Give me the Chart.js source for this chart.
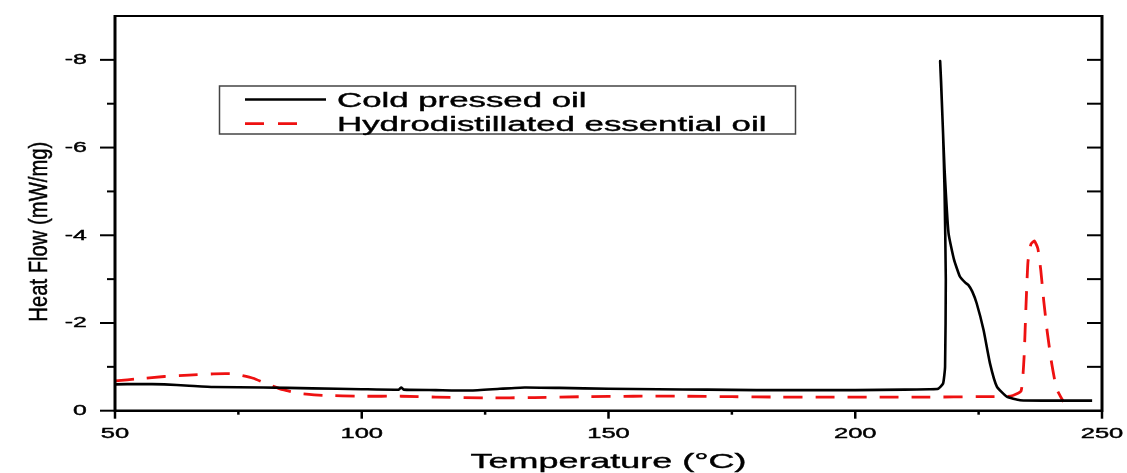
<!DOCTYPE html>
<html lang="en">
  <head>
    <meta charset="UTF-8" />
    <title>Heat Flow vs Temperature</title>
    <script src="https://cdn.jsdelivr.net/npm/chart.js"></script>
    <style>
      html, body { margin: 0; padding: 0; background: #fff; }
      #grafico { display: block; }
    </style>
  </head>
  <body>
    <canvas id="grafico" width="1127" height="473"></canvas>
  </body>
</html>

<script>
  // series (temperature in °C, heat flow in mW/mg)
  const coldTemp = [50, 55, 60, 65, 70, 80, 90, 100, 107.5, 108, 108.5, 115, 122, 128, 133, 140, 150, 160, 170, 180, 190, 200, 210, 215, 216.8, 217.8, 218.2, 218.35, 218.1, 217.8, 217.45, 217.2, 217.4, 217.7, 218.1, 218.9, 220, 221.2, 222.3, 222.9, 223.7, 224.6, 226, 227.3, 228.7, 230.7, 233.4, 240, 248];
  const coldFlow = [-0.6, -0.61, -0.6, -0.57, -0.54, -0.53, -0.51, -0.49, -0.48, -0.53, -0.48, -0.47, -0.46, -0.5, -0.53, -0.52, -0.5, -0.49, -0.48, -0.47, -0.47, -0.47, -0.48, -0.49, -0.5, -0.62, -1.0, -3.0, -5.0, -6.3, -7.3, -7.97, -7.5, -6.6, -5.5, -4.05, -3.45, -3.06, -2.92, -2.87, -2.72, -2.45, -1.84, -1.08, -0.55, -0.32, -0.24, -0.23, -0.23];

  const hydroTemp = [50, 55, 60, 65, 70, 74, 78, 81, 84, 87.5, 92, 100, 108, 115, 125, 135, 145, 155, 165, 175, 185, 195, 205, 215, 225, 231.5, 233.6, 234.2, 234.6, 235.0, 235.6, 236.3, 237.0, 237.6, 238.2, 238.9, 239.8, 240.8, 242.2];
  const hydroFlow = [-0.68, -0.73, -0.78, -0.81, -0.84, -0.84, -0.74, -0.6, -0.48, -0.39, -0.35, -0.33, -0.33, -0.31, -0.29, -0.3, -0.32, -0.33, -0.33, -0.32, -0.31, -0.31, -0.31, -0.31, -0.32, -0.33, -0.45, -1.2, -2.4, -3.4, -3.8, -3.87, -3.7, -3.2, -2.5, -1.8, -1.08, -0.5, -0.2];

  const serieNomes = ["Cold pressed oil", "Hydrodistillated essential oil"];

  const xTicks = [50, 100, 150, 200, 250];
  const xMinor = [75, 125, 175, 225];
  const yTicks = [0, -2, -4, -6, -8];
  const yMinor = [-1, -3, -5, -7];

  const FONTE = '"Liberation Sans", Arial, sans-serif';

  function pontos(xs, ys) {
    return xs.map((v, i) => ({ x: v, y: ys[i] }));
  }

  // text in the original is stretched sideways, so draw it with a scale
  function texto(ctx, str, x, y, size, sx, align) {
    ctx.save();
    ctx.translate(x, y);
    ctx.scale(sx, 1);
    ctx.font = size + "px " + FONTE;
    ctx.textAlign = align;
    ctx.textBaseline = "alphabetic";
    ctx.fillStyle = "#000";
    ctx.strokeStyle = "#000";
    ctx.lineWidth = 0.4;
    ctx.fillText(str, 0, 0);
    ctx.strokeText(str, 0, 0);
    ctx.restore();
  }

  function linha(ctx, x1, y1, x2, y2, w) {
    ctx.lineWidth = w;
    ctx.beginPath();
    ctx.moveTo(x1, y1);
    ctx.lineTo(x2, y2);
    ctx.stroke();
  }

  const moldura = {
    id: "moldura",
    afterDraw(chart) {
      const { ctx, chartArea: a, scales } = chart;
      const x = scales.x;
      const y = scales.y;
      ctx.save();
      ctx.strokeStyle = "#000";

      // frame
      linha(ctx, a.left, a.top, a.right, a.top, 2);
      linha(ctx, a.left, a.bottom, a.right, a.bottom, 2.5);
      linha(ctx, a.left, a.top - 1, a.left, a.bottom + 1, 3);
      linha(ctx, a.right, a.top - 1, a.right, a.bottom + 1, 3);

      // y ticks: outside on the left, inside on the right
      yTicks.concat(yMinor).forEach((v) => {
        const py = y.getPixelForValue(v);
        const len = yTicks.includes(v) ? 15 : 8;
        linha(ctx, a.left - len, py, a.left, py, 2);
        if (v !== 0) linha(ctx, a.right - 15, py, a.right, py, 2);
      });
      yTicks.forEach((v) => {
        texto(ctx, String(v), 86.7, y.getPixelForValue(v) + 4.4, 14.6, 1.7, "right");
      });

      // x ticks
      xTicks.concat(xMinor).forEach((v) => {
        const px = x.getPixelForValue(v);
        const len = xTicks.includes(v) ? 8 : 4;
        linha(ctx, px, a.bottom, px, a.bottom + len, 2.5);
      });
      xTicks.forEach((v) => {
        texto(ctx, String(v), x.getPixelForValue(v), 437.7, 14.6, 1.75, "center");
      });

      // axis titles
      texto(ctx, "Temperature (°C)", (a.left + a.right) / 2, 468.3, 21, 1.71, "center");
      ctx.save();
      ctx.translate(46.7, 231.7);
      ctx.rotate(-Math.PI / 2);
      ctx.scale(1, 1.26);
      ctx.font = "20.25px " + FONTE;
      ctx.textAlign = "center";
      ctx.fillStyle = "#000";
      ctx.strokeStyle = "#000";
      ctx.lineWidth = 0.4;
      ctx.fillText("Heat Flow (mW/mg)", 0, 0);
      ctx.strokeText("Heat Flow (mW/mg)", 0, 0);
      ctx.restore();

      // legend box
      ctx.strokeStyle = "#444";
      ctx.lineWidth = 1.5;
      ctx.strokeRect(219.5, 86, 576, 48);
      ctx.strokeStyle = "#000";
      linha(ctx, 245, 99.5, 326, 99.5, 2.4);
      ctx.strokeStyle = "#ee1111";
      ctx.setLineDash([19, 14]);
      linha(ctx, 245, 123.7, 298, 123.7, 2.8);
      ctx.setLineDash([]);
      texto(ctx, serieNomes[0], 337, 106.7, 20, 1.74, "left");
      texto(ctx, serieNomes[1], 337, 130.7, 20, 1.74, "left");

      ctx.restore();
    },
  };

  const config = {
    type: "line",
    data: {
      datasets: [
        {
          label: serieNomes[0],
          data: pontos(coldTemp, coldFlow),
          borderColor: "#000",
          borderWidth: 2.6,
          pointRadius: 0,
          tension: 0.15,
          fill: false,
        },
        {
          label: serieNomes[1],
          data: pontos(hydroTemp, hydroFlow),
          borderColor: "#ee1111",
          borderWidth: 2.8,
          borderDash: [19, 13],
          pointRadius: 0,
          tension: 0.15,
          fill: false,
        },
      ],
    },
    options: {
      responsive: false,
      animation: false,
      layout: { padding: { top: 16, right: 25, left: 0, bottom: 0 } },
      scales: {
        x: {
          type: "linear",
          min: 50,
          max: 250,
          ticks: { display: false },
          grid: { display: false },
          border: { display: false },
          afterFit(s) { s.height = 62.3; },
        },
        y: {
          min: -9,
          max: 0,
          reverse: true,
          ticks: { display: false },
          grid: { display: false },
          border: { display: false },
          afterFit(s) { s.width = 115; },
        },
      },
      plugins: {
        legend: { display: false },
        tooltip: { enabled: false },
      },
    },
    plugins: [moldura],
  };

  new Chart(document.getElementById("grafico"), config);
</script>
